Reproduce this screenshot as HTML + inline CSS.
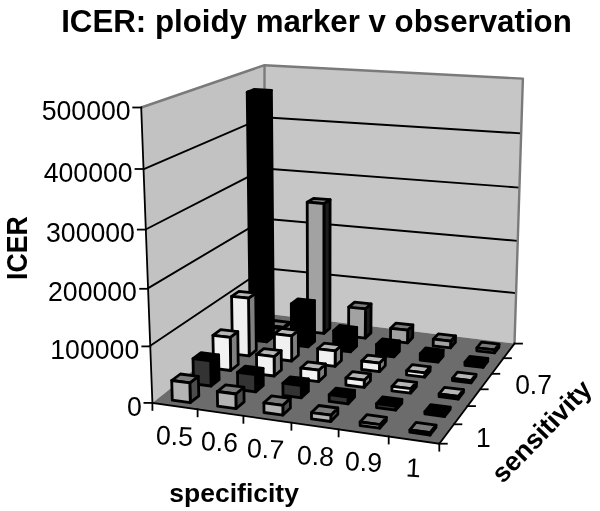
<!DOCTYPE html>
<html><head><meta charset="utf-8"><title>ICER: ploidy marker v observation</title>
<style>
html,body{margin:0;padding:0;background:#fff}
body{width:600px;height:511px;position:relative;overflow:hidden;font-family:"Liberation Sans",sans-serif;color:#000}
.t{position:absolute;white-space:nowrap;line-height:1;}
</style></head><body>
<svg width="600" height="511" viewBox="0 0 600 511" style="position:absolute;left:0;top:0">
<polygon points="152.4,402.9 264.6,313.4 264.5,65.2 141.2,107.5" fill="#c2c2c2"/>
<polygon points="264.6,313.4 514.5,343.6 522.9,78.6 264.5,65.2" fill="#c6c6c6"/>
<polygon points="152.4,402.9 439.3,443.7 514.5,343.6 264.6,313.4" fill="#6c6c6c"/>
<polyline points="149.2,346.5 265.4,268.2 515.8,293.1" fill="none" stroke="#000" stroke-width="1.9"/>
<polyline points="147.4,288.6 264.9,218.8 517.6,240.9" fill="none" stroke="#000" stroke-width="1.9"/>
<polyline points="145.6,229.5 264.4,168.5 519.4,187.6" fill="none" stroke="#000" stroke-width="1.9"/>
<polyline points="143.8,169.2 263.9,117.3 521.2,133.4" fill="none" stroke="#000" stroke-width="1.9"/>
<polyline points="141.2,107.5 264.5,65.2 522.9,78.6 514.5,343.6" fill="none" stroke="#7a7a7a" stroke-width="2.4" stroke-linejoin="round"/>
<polyline points="264.5,65.2 264.6,313.4" fill="none" stroke="#7a7a7a" stroke-width="2.4"/>
<polygon points="283.3,328.8 289.7,323.7 289.7,322.3 283.3,327.3" fill="#1c1c1c" stroke="#000" stroke-width="2.8" stroke-linejoin="round"/>
<polygon points="267.3,325.5 283.3,327.3 289.7,322.3 273.8,320.5" fill="#7a7a7a" stroke="#000" stroke-width="2.8" stroke-linejoin="round"/>
<polygon points="267.3,327.0 283.3,328.8 283.3,327.3 267.3,325.5" fill="#a2a2a2" stroke="#000" stroke-width="2.8" stroke-linejoin="round"/>
<polygon points="323.9,333.4 329.9,328.2 330.1,199.7 323.9,203.6" fill="#1c1c1c" stroke="#000" stroke-width="2.8" stroke-linejoin="round"/>
<polygon points="307.2,202.2 323.9,203.6 330.1,199.7 313.5,198.4" fill="#7a7a7a" stroke="#000" stroke-width="2.8" stroke-linejoin="round"/>
<polygon points="307.6,331.6 323.9,333.4 323.9,203.6 307.2,202.2" fill="#a2a2a2" stroke="#000" stroke-width="2.8" stroke-linejoin="round"/>
<polygon points="365.2,338.1 370.9,332.9 371.1,303.9 365.5,308.8" fill="#1c1c1c" stroke="#000" stroke-width="2.8" stroke-linejoin="round"/>
<polygon points="348.7,307.1 365.5,308.8 371.1,303.9 354.6,302.1" fill="#7a7a7a" stroke="#000" stroke-width="2.8" stroke-linejoin="round"/>
<polygon points="348.6,336.2 365.2,338.1 365.5,308.8 348.7,307.1" fill="#a2a2a2" stroke="#000" stroke-width="2.8" stroke-linejoin="round"/>
<polygon points="407.5,342.9 412.7,337.6 412.9,325.0 407.6,330.2" fill="#1c1c1c" stroke="#000" stroke-width="2.8" stroke-linejoin="round"/>
<polygon points="390.6,328.3 407.6,330.2 412.9,325.0 396.0,323.1" fill="#7a7a7a" stroke="#000" stroke-width="2.8" stroke-linejoin="round"/>
<polygon points="390.5,341.0 407.5,342.9 407.6,330.2 390.6,328.3" fill="#a2a2a2" stroke="#000" stroke-width="2.8" stroke-linejoin="round"/>
<polygon points="450.5,347.8 455.4,342.4 455.5,335.8 450.7,341.2" fill="#1c1c1c" stroke="#000" stroke-width="2.8" stroke-linejoin="round"/>
<polygon points="433.3,339.2 450.7,341.2 455.5,335.8 438.3,333.9" fill="#7a7a7a" stroke="#000" stroke-width="2.8" stroke-linejoin="round"/>
<polygon points="433.2,345.9 450.5,347.8 450.7,341.2 433.3,339.2" fill="#a2a2a2" stroke="#000" stroke-width="2.8" stroke-linejoin="round"/>
<polygon points="494.5,352.9 498.9,347.3 499.0,344.2 494.6,349.8" fill="#1c1c1c" stroke="#000" stroke-width="2.8" stroke-linejoin="round"/>
<polygon points="476.9,347.8 494.6,349.8 499.0,344.2 481.5,342.2" fill="#7a7a7a" stroke="#000" stroke-width="2.8" stroke-linejoin="round"/>
<polygon points="476.8,350.8 494.5,352.9 494.6,349.8 476.9,347.8" fill="#a2a2a2" stroke="#000" stroke-width="2.8" stroke-linejoin="round"/>
<polygon points="266.7,341.9 273.5,336.6 271.4,90.3 264.3,93.1" fill="#000000" stroke="#000" stroke-width="2.8" stroke-linejoin="round"/>
<polygon points="247.2,92.2 264.3,93.1 271.4,90.3 254.4,89.4" fill="#000000" stroke="#000" stroke-width="2.8" stroke-linejoin="round"/>
<polygon points="250.4,340.0 266.7,341.9 264.3,93.1 247.2,92.2" fill="#000000" stroke="#000" stroke-width="2.8" stroke-linejoin="round"/>
<polygon points="308.2,346.8 314.6,341.4 314.5,300.7 308.1,305.7" fill="#000000" stroke="#000" stroke-width="2.8" stroke-linejoin="round"/>
<polygon points="291.3,303.9 308.1,305.7 314.5,300.7 297.9,298.9" fill="#000000" stroke="#000" stroke-width="2.8" stroke-linejoin="round"/>
<polygon points="291.5,344.9 308.2,346.8 308.1,305.7 291.3,303.9" fill="#000000" stroke="#000" stroke-width="2.8" stroke-linejoin="round"/>
<polygon points="350.6,351.8 356.6,346.2 356.7,327.3 350.7,332.7" fill="#000000" stroke="#000" stroke-width="2.8" stroke-linejoin="round"/>
<polygon points="333.6,330.8 350.7,332.7 356.7,327.3 339.7,325.4" fill="#000000" stroke="#000" stroke-width="2.8" stroke-linejoin="round"/>
<polygon points="333.6,349.8 350.6,351.8 350.7,332.7 333.6,330.8" fill="#000000" stroke="#000" stroke-width="2.8" stroke-linejoin="round"/>
<polygon points="393.8,356.9 399.4,351.2 399.5,340.9 394.0,346.5" fill="#000000" stroke="#000" stroke-width="2.8" stroke-linejoin="round"/>
<polygon points="376.5,344.5 394.0,346.5 399.5,340.9 382.3,338.9" fill="#000000" stroke="#000" stroke-width="2.8" stroke-linejoin="round"/>
<polygon points="376.4,354.8 393.8,356.9 394.0,346.5 376.5,344.5" fill="#000000" stroke="#000" stroke-width="2.8" stroke-linejoin="round"/>
<polygon points="438.0,362.1 443.1,356.3 443.2,350.1 438.1,355.8" fill="#000000" stroke="#000" stroke-width="2.8" stroke-linejoin="round"/>
<polygon points="420.3,353.7 438.1,355.8 443.2,350.1 425.6,348.0" fill="#000000" stroke="#000" stroke-width="2.8" stroke-linejoin="round"/>
<polygon points="420.2,360.0 438.0,362.1 438.1,355.8 420.3,353.7" fill="#000000" stroke="#000" stroke-width="2.8" stroke-linejoin="round"/>
<polygon points="483.1,367.4 487.7,361.5 487.8,358.3 483.2,364.2" fill="#000000" stroke="#000" stroke-width="2.8" stroke-linejoin="round"/>
<polygon points="465.0,362.1 483.2,364.2 487.8,358.3 469.8,356.3" fill="#000000" stroke="#000" stroke-width="2.8" stroke-linejoin="round"/>
<polygon points="464.9,365.3 483.1,367.4 483.2,364.2 465.0,362.1" fill="#000000" stroke="#000" stroke-width="2.8" stroke-linejoin="round"/>
<polygon points="249.2,355.8 256.3,350.2 255.7,293.2 248.5,298.2" fill="#808080" stroke="#000" stroke-width="2.8" stroke-linejoin="round"/>
<polygon points="231.6,296.4 248.5,298.2 255.7,293.2 238.9,291.4" fill="#b6b6b6" stroke="#000" stroke-width="2.8" stroke-linejoin="round"/>
<polygon points="232.5,353.8 249.2,355.8 248.5,298.2 231.6,296.4" fill="#f0f0f0" stroke="#000" stroke-width="2.8" stroke-linejoin="round"/>
<polygon points="291.7,361.0 298.4,355.2 298.3,330.3 291.6,335.8" fill="#808080" stroke="#000" stroke-width="2.8" stroke-linejoin="round"/>
<polygon points="274.4,333.8 291.6,335.8 298.3,330.3 281.3,328.3" fill="#b6b6b6" stroke="#000" stroke-width="2.8" stroke-linejoin="round"/>
<polygon points="274.6,358.9 291.7,361.0 291.6,335.8 274.4,333.8" fill="#f0f0f0" stroke="#000" stroke-width="2.8" stroke-linejoin="round"/>
<polygon points="335.1,366.3 341.4,360.4 341.5,345.2 335.2,350.9" fill="#808080" stroke="#000" stroke-width="2.8" stroke-linejoin="round"/>
<polygon points="317.6,348.8 335.2,350.9 341.5,345.2 324.1,343.2" fill="#b6b6b6" stroke="#000" stroke-width="2.8" stroke-linejoin="round"/>
<polygon points="317.6,364.1 335.1,366.3 335.2,350.9 317.6,348.8" fill="#f0f0f0" stroke="#000" stroke-width="2.8" stroke-linejoin="round"/>
<polygon points="379.4,371.7 385.3,365.6 385.4,357.2 379.5,363.1" fill="#808080" stroke="#000" stroke-width="2.8" stroke-linejoin="round"/>
<polygon points="361.7,361.0 379.5,363.1 385.4,357.2 367.7,355.1" fill="#b6b6b6" stroke="#000" stroke-width="2.8" stroke-linejoin="round"/>
<polygon points="361.6,369.5 379.4,371.7 379.5,363.1 361.7,361.0" fill="#f0f0f0" stroke="#000" stroke-width="2.8" stroke-linejoin="round"/>
<polygon points="424.7,377.2 430.1,371.0 430.2,366.8 424.8,372.9" fill="#808080" stroke="#000" stroke-width="2.8" stroke-linejoin="round"/>
<polygon points="406.6,370.6 424.8,372.9 430.2,366.8 412.2,364.6" fill="#b6b6b6" stroke="#000" stroke-width="2.8" stroke-linejoin="round"/>
<polygon points="406.5,374.9 424.7,377.2 424.8,372.9 406.6,370.6" fill="#f0f0f0" stroke="#000" stroke-width="2.8" stroke-linejoin="round"/>
<polygon points="471.0,382.8 475.9,376.5 476.0,374.4 471.1,380.6" fill="#808080" stroke="#000" stroke-width="2.8" stroke-linejoin="round"/>
<polygon points="452.4,378.4 471.1,380.6 476.0,374.4 457.5,372.2" fill="#b6b6b6" stroke="#000" stroke-width="2.8" stroke-linejoin="round"/>
<polygon points="452.4,380.5 471.0,382.8 471.1,380.6 452.4,378.4" fill="#f0f0f0" stroke="#000" stroke-width="2.8" stroke-linejoin="round"/>
<polygon points="230.7,370.5 238.2,364.5 237.8,331.7 230.2,337.3" fill="#808080" stroke="#000" stroke-width="2.8" stroke-linejoin="round"/>
<polygon points="212.9,335.3 230.2,337.3 237.8,331.7 220.7,329.7" fill="#b6b6b6" stroke="#000" stroke-width="2.8" stroke-linejoin="round"/>
<polygon points="213.6,368.3 230.7,370.5 230.2,337.3 212.9,335.3" fill="#f2f2f2" stroke="#000" stroke-width="2.8" stroke-linejoin="round"/>
<polygon points="274.2,376.0 281.4,369.9 281.2,350.7 274.1,356.6" fill="#808080" stroke="#000" stroke-width="2.8" stroke-linejoin="round"/>
<polygon points="256.5,354.4 274.1,356.6 281.2,350.7 263.8,348.6" fill="#b6b6b6" stroke="#000" stroke-width="2.8" stroke-linejoin="round"/>
<polygon points="256.7,373.8 274.2,376.0 274.1,356.6 256.5,354.4" fill="#f2f2f2" stroke="#000" stroke-width="2.8" stroke-linejoin="round"/>
<polygon points="318.7,381.6 325.4,375.3 325.4,364.0 318.7,370.2" fill="#808080" stroke="#000" stroke-width="2.8" stroke-linejoin="round"/>
<polygon points="300.8,368.0 318.7,370.2 325.4,364.0 307.6,361.9" fill="#b6b6b6" stroke="#000" stroke-width="2.8" stroke-linejoin="round"/>
<polygon points="300.8,379.3 318.7,381.6 318.7,370.2 300.8,368.0" fill="#f2f2f2" stroke="#000" stroke-width="2.8" stroke-linejoin="round"/>
<polygon points="364.2,387.3 370.4,380.9 370.5,373.9 364.2,380.2" fill="#808080" stroke="#000" stroke-width="2.8" stroke-linejoin="round"/>
<polygon points="345.9,377.9 364.2,380.2 370.5,373.9 352.3,371.7" fill="#b6b6b6" stroke="#000" stroke-width="2.8" stroke-linejoin="round"/>
<polygon points="345.9,385.0 364.2,387.3 364.2,380.2 345.9,377.9" fill="#f2f2f2" stroke="#000" stroke-width="2.8" stroke-linejoin="round"/>
<polygon points="410.7,393.1 416.4,386.6 416.5,382.3 410.7,388.7" fill="#808080" stroke="#000" stroke-width="2.8" stroke-linejoin="round"/>
<polygon points="392.0,386.4 410.7,388.7 416.5,382.3 397.9,380.0" fill="#b6b6b6" stroke="#000" stroke-width="2.8" stroke-linejoin="round"/>
<polygon points="391.9,390.8 410.7,393.1 410.7,388.7 392.0,386.4" fill="#f2f2f2" stroke="#000" stroke-width="2.8" stroke-linejoin="round"/>
<polygon points="458.2,399.1 463.4,392.5 463.5,389.7 458.3,396.3" fill="#808080" stroke="#000" stroke-width="2.8" stroke-linejoin="round"/>
<polygon points="439.1,393.9 458.3,396.3 463.5,389.7 444.5,387.4" fill="#b6b6b6" stroke="#000" stroke-width="2.8" stroke-linejoin="round"/>
<polygon points="439.1,396.7 458.2,399.1 458.3,396.3 439.1,393.9" fill="#f2f2f2" stroke="#000" stroke-width="2.8" stroke-linejoin="round"/>
<polygon points="211.1,386.0 219.1,379.7 218.6,354.8 210.6,360.8" fill="#000000" stroke="#000" stroke-width="2.8" stroke-linejoin="round"/>
<polygon points="193.0,358.6 210.6,360.8 218.6,354.8 201.1,352.6" fill="#000000" stroke="#000" stroke-width="2.8" stroke-linejoin="round"/>
<polygon points="193.5,383.8 211.1,386.0 210.6,360.8 193.0,358.6" fill="#333333" stroke="#000" stroke-width="2.8" stroke-linejoin="round"/>
<polygon points="255.7,391.9 263.3,385.4 263.1,368.4 255.5,374.7" fill="#000000" stroke="#000" stroke-width="2.8" stroke-linejoin="round"/>
<polygon points="237.5,372.4 255.5,374.7 263.1,368.4 245.2,366.2" fill="#000000" stroke="#000" stroke-width="2.8" stroke-linejoin="round"/>
<polygon points="237.7,389.5 255.7,391.9 255.5,374.7 237.5,372.4" fill="#333333" stroke="#000" stroke-width="2.8" stroke-linejoin="round"/>
<polygon points="301.3,397.8 308.4,391.2 308.4,379.0 301.3,385.5" fill="#000000" stroke="#000" stroke-width="2.8" stroke-linejoin="round"/>
<polygon points="282.9,383.2 301.3,385.5 308.4,379.0 290.2,376.8" fill="#000000" stroke="#000" stroke-width="2.8" stroke-linejoin="round"/>
<polygon points="283.0,395.4 301.3,397.8 301.3,385.5 282.9,383.2" fill="#333333" stroke="#000" stroke-width="2.8" stroke-linejoin="round"/>
<polygon points="348.0,403.9 354.6,397.1 354.6,390.4 348.0,397.1" fill="#000000" stroke="#000" stroke-width="2.8" stroke-linejoin="round"/>
<polygon points="329.2,394.7 348.0,397.1 354.6,390.4 336.0,388.1" fill="#000000" stroke="#000" stroke-width="2.8" stroke-linejoin="round"/>
<polygon points="329.2,401.4 348.0,403.9 348.0,397.1 329.2,394.7" fill="#333333" stroke="#000" stroke-width="2.8" stroke-linejoin="round"/>
<polygon points="395.7,410.1 401.8,403.2 401.9,399.3 395.8,406.1" fill="#000000" stroke="#000" stroke-width="2.8" stroke-linejoin="round"/>
<polygon points="376.5,403.6 395.8,406.1 401.9,399.3 382.8,396.8" fill="#000000" stroke="#000" stroke-width="2.8" stroke-linejoin="round"/>
<polygon points="376.5,407.6 395.7,410.1 395.8,406.1 376.5,403.6" fill="#333333" stroke="#000" stroke-width="2.8" stroke-linejoin="round"/>
<polygon points="444.6,416.5 450.1,409.4 450.2,407.1 444.6,414.2" fill="#000000" stroke="#000" stroke-width="2.8" stroke-linejoin="round"/>
<polygon points="424.9,411.6 444.6,414.2 450.2,407.1 430.7,404.6" fill="#000000" stroke="#000" stroke-width="2.8" stroke-linejoin="round"/>
<polygon points="424.9,413.9 444.6,416.5 444.6,414.2 424.9,411.6" fill="#333333" stroke="#000" stroke-width="2.8" stroke-linejoin="round"/>
<polygon points="190.3,402.6 198.8,395.8 198.3,376.3 189.8,382.8" fill="#4c4c4c" stroke="#000" stroke-width="2.8" stroke-linejoin="round"/>
<polygon points="171.7,380.5 189.8,382.8 198.3,376.3 180.4,374.0" fill="#7c7c7c" stroke="#000" stroke-width="2.8" stroke-linejoin="round"/>
<polygon points="172.3,400.1 190.3,402.6 189.8,382.8 171.7,380.5" fill="#b4b4b4" stroke="#000" stroke-width="2.8" stroke-linejoin="round"/>
<polygon points="236.0,408.7 244.1,401.9 243.9,387.2 235.8,394.0" fill="#4c4c4c" stroke="#000" stroke-width="2.8" stroke-linejoin="round"/>
<polygon points="217.3,391.5 235.8,394.0 243.9,387.2 225.6,384.9" fill="#7c7c7c" stroke="#000" stroke-width="2.8" stroke-linejoin="round"/>
<polygon points="217.6,406.2 236.0,408.7 235.8,394.0 217.3,391.5" fill="#b4b4b4" stroke="#000" stroke-width="2.8" stroke-linejoin="round"/>
<polygon points="282.9,415.1 290.4,408.0 290.3,398.4 282.8,405.3" fill="#4c4c4c" stroke="#000" stroke-width="2.8" stroke-linejoin="round"/>
<polygon points="263.9,402.8 282.8,405.3 290.3,398.4 271.6,395.9" fill="#7c7c7c" stroke="#000" stroke-width="2.8" stroke-linejoin="round"/>
<polygon points="264.0,412.5 282.9,415.1 282.8,405.3 263.9,402.8" fill="#b4b4b4" stroke="#000" stroke-width="2.8" stroke-linejoin="round"/>
<polygon points="330.8,421.5 337.8,414.3 337.8,408.0 330.8,415.2" fill="#4c4c4c" stroke="#000" stroke-width="2.8" stroke-linejoin="round"/>
<polygon points="311.5,412.6 330.8,415.2 337.8,408.0 318.7,405.5" fill="#7c7c7c" stroke="#000" stroke-width="2.8" stroke-linejoin="round"/>
<polygon points="311.5,418.9 330.8,421.5 330.8,415.2 311.5,412.6" fill="#b4b4b4" stroke="#000" stroke-width="2.8" stroke-linejoin="round"/>
<polygon points="379.8,428.2 386.3,420.8 386.4,417.3 379.9,424.7" fill="#4c4c4c" stroke="#000" stroke-width="2.8" stroke-linejoin="round"/>
<polygon points="360.1,422.0 379.9,424.7 386.4,417.3 366.8,414.7" fill="#7c7c7c" stroke="#000" stroke-width="2.8" stroke-linejoin="round"/>
<polygon points="360.1,425.5 379.8,428.2 379.9,424.7 360.1,422.0" fill="#b4b4b4" stroke="#000" stroke-width="2.8" stroke-linejoin="round"/>
<polygon points="430.1,435.0 436.0,427.4 436.0,425.1 430.1,432.6" fill="#4c4c4c" stroke="#000" stroke-width="2.8" stroke-linejoin="round"/>
<polygon points="409.9,429.9 430.1,432.6 436.0,425.1 416.0,422.4" fill="#7c7c7c" stroke="#000" stroke-width="2.8" stroke-linejoin="round"/>
<polygon points="409.8,432.2 430.1,435.0 430.1,432.6 409.9,429.9" fill="#b4b4b4" stroke="#000" stroke-width="2.8" stroke-linejoin="round"/>
<polyline points="141.2,107.5 152.4,402.9 439.3,443.7 514.5,343.6" stroke="#000" stroke-width="1.8" fill="none" stroke-linecap="square"/>
<line x1="133.2" y1="107.5" x2="141.2" y2="107.5" stroke="#000" stroke-width="1.8" fill="none" stroke-linecap="square"/>
<line x1="135.5" y1="169.0" x2="143.5" y2="169.0" stroke="#000" stroke-width="1.8" fill="none" stroke-linecap="square"/>
<line x1="137.8" y1="229.6" x2="145.8" y2="229.6" stroke="#000" stroke-width="1.8" fill="none" stroke-linecap="square"/>
<line x1="140.1" y1="288.8" x2="148.1" y2="288.8" stroke="#000" stroke-width="1.8" fill="none" stroke-linecap="square"/>
<line x1="142.3" y1="346.4" x2="150.3" y2="346.4" stroke="#000" stroke-width="1.8" fill="none" stroke-linecap="square"/>
<line x1="144.4" y1="402.9" x2="152.4" y2="402.9" stroke="#000" stroke-width="1.8" fill="none" stroke-linecap="square"/>
<line x1="152.4" y1="402.9" x2="152.4" y2="409.9" stroke="#000" stroke-width="1.8" fill="none" stroke-linecap="square"/>
<line x1="197.6" y1="409.3" x2="197.6" y2="416.3" stroke="#000" stroke-width="1.8" fill="none" stroke-linecap="square"/>
<line x1="243.4" y1="415.8" x2="243.4" y2="422.8" stroke="#000" stroke-width="1.8" fill="none" stroke-linecap="square"/>
<line x1="291.4" y1="422.7" x2="291.4" y2="429.7" stroke="#000" stroke-width="1.8" fill="none" stroke-linecap="square"/>
<line x1="338.6" y1="429.4" x2="338.6" y2="436.4" stroke="#000" stroke-width="1.8" fill="none" stroke-linecap="square"/>
<line x1="388.7" y1="436.5" x2="388.7" y2="443.5" stroke="#000" stroke-width="1.8" fill="none" stroke-linecap="square"/>
<line x1="439.3" y1="443.7" x2="439.3" y2="450.7" stroke="#000" stroke-width="1.8" fill="none" stroke-linecap="square"/>
<line x1="514.5" y1="343.6" x2="522.0" y2="343.6" stroke="#000" stroke-width="1.8" fill="none" stroke-linecap="square"/>
<line x1="503.5" y1="358.2" x2="511.0" y2="358.2" stroke="#000" stroke-width="1.8" fill="none" stroke-linecap="square"/>
<line x1="491.8" y1="373.8" x2="499.3" y2="373.8" stroke="#000" stroke-width="1.8" fill="none" stroke-linecap="square"/>
<line x1="480.2" y1="389.3" x2="487.7" y2="389.3" stroke="#000" stroke-width="1.8" fill="none" stroke-linecap="square"/>
<line x1="467.5" y1="406.1" x2="475.0" y2="406.1" stroke="#000" stroke-width="1.8" fill="none" stroke-linecap="square"/>
<line x1="453.9" y1="424.3" x2="461.4" y2="424.3" stroke="#000" stroke-width="1.8" fill="none" stroke-linecap="square"/>
<line x1="439.3" y1="443.7" x2="446.8" y2="443.7" stroke="#000" stroke-width="1.8" fill="none" stroke-linecap="square"/>
</svg>
<div class="t" style="left:61.2px;top:5.8px;font-size:31.25px;font-weight:bold;">ICER: ploidy marker v observation</div>
<div class="t" style="left:41.7px;top:96.7px;font-size:26.67px;transform:scale(1,1.06);transform-origin:50% 50%;">500000</div>
<div class="t" style="left:43.7px;top:158.6px;font-size:26.67px;transform:scale(1,1.06);transform-origin:50% 50%;">400000</div>
<div class="t" style="left:46.0px;top:219.4px;font-size:26.67px;transform:scale(1,1.06);transform-origin:50% 50%;">300000</div>
<div class="t" style="left:48.0px;top:278.4px;font-size:26.67px;transform:scale(1,1.06);transform-origin:50% 50%;">200000</div>
<div class="t" style="left:50.3px;top:335.9px;font-size:26.67px;transform:scale(1,1.06);transform-origin:50% 50%;">100000</div>
<div class="t" style="left:127.0px;top:392.9px;font-size:26.67px;transform:scale(1,1.06);transform-origin:50% 50%;">0</div>
<div class="t" style="left:3.2px;top:279.6px;font-size:26.67px;font-weight:bold;transform:rotate(-90deg) scale(1,1.08);transform-origin:0 0;">ICER</div>
<div class="t" style="left:155.9px;top:422.6px;font-size:26.67px;transform:rotate(3deg);transform-origin:50% 50%;">0.5</div>
<div class="t" style="left:201.4px;top:429.2px;font-size:26.67px;transform:rotate(3deg);transform-origin:50% 50%;">0.6</div>
<div class="t" style="left:247.4px;top:435.8px;font-size:26.67px;transform:rotate(3deg);transform-origin:50% 50%;">0.7</div>
<div class="t" style="left:296.9px;top:442.7px;font-size:26.67px;transform:rotate(3deg);transform-origin:50% 50%;">0.8</div>
<div class="t" style="left:345.2px;top:448.7px;font-size:26.67px;transform:rotate(3deg);transform-origin:50% 50%;">0.9</div>
<div class="t" style="left:406.1px;top:455.2px;font-size:26.67px;transform:rotate(3deg);transform-origin:50% 50%;">1</div>
<div class="t" style="left:169.3px;top:480.0px;font-size:26.50px;font-weight:bold;">specificity</div>
<div class="t" style="left:514.6px;top:371.6px;font-size:26.67px;transform:scale(0.99,1.04);transform-origin:50% 50%;">0.7</div>
<div class="t" style="left:475.5px;top:425.0px;font-size:26.67px;transform:scale(0.99,1.04);transform-origin:50% 50%;">1</div>
<div class="t" style="left:487.2px;top:469.0px;font-size:26.67px;font-weight:bold;transform:rotate(-46deg);transform-origin:0 0;">sensitivity</div>
</body></html>
